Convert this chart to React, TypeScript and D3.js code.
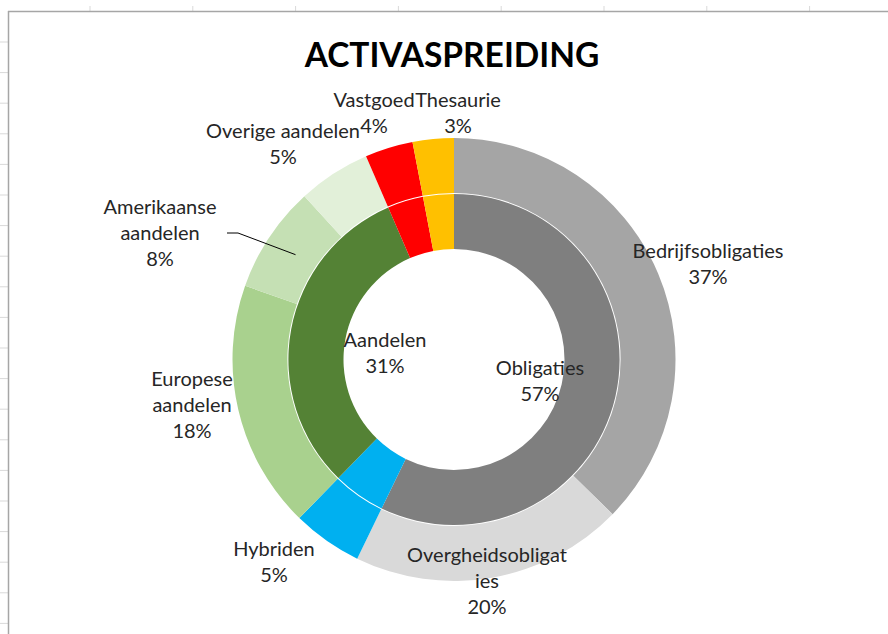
import React from "react";
import * as d3 from "d3";

// ---- data ----
const outerLabels = [
  "Bedrijfsobligaties",
  "Overgheidsobligaties",
  "Hybriden",
  "Europese aandelen",
  "Amerikaanse aandelen",
  "Overige aandelen",
  "Vastgoed",
  "Thesaurie",
];
const outerValues = [37.3, 19.9, 5.1, 18.1, 7.8, 5.3, 3.5, 3.0];
const outerColors = ["#A5A5A5", "#D9D9D9", "#00B0F0", "#A9D18E", "#C5E0B4", "#E2F0D9", "#FF0000", "#FFC000"];

const innerLabels = ["Obligaties", "Hybriden", "Aandelen", "Vastgoed", "Thesaurie"];
const innerValues = [57.2, 5.1, 31.2, 3.5, 3.0];
const innerColors = ["#7F7F7F", "#00B0F0", "#548235", "#FF0000", "#FFC000"];

const title = "ACTIVASPREIDING";

// label text lines (as shown in the chart)
const outerLabelLines = [
  ["Bedrijfsobligaties", "37%"],
  ["Overgheidsobligat", "ies", "20%"],
  ["Hybriden", "5%"],
  ["Europese", "aandelen", "18%"],
  ["Amerikaanse", "aandelen", "8%"],
  ["Overige aandelen", "5%"],
  ["Vastgoed", "4%"],
  ["Thesaurie", "3%"],
];
const innerLabelLines: (string[] | null)[] = [["Obligaties", "57%"], null, ["Aandelen", "31%"], null, null];

// ---- layout (positions of label blocks: first baseline) ----
const outerLabelPos: [number, number][] = [
  [708, 258],
  [487, 562],
  [274, 556],
  [192, 386],
  [160, 214],
  [283, 138],
  [374, 107],
  [458, 107],
];
const innerLabelPos: ([number, number] | null)[] = [[540, 375], null, [385, 347], null, null];

const W = 888;
const H = 634;
const cx = 454;
const cy = 359.5;
const rHole = 110.5;
const rMid = 166;
const rOuter = 221.5;
const lineH = 26;
const font = "Lato, 'Open Sans', sans-serif";

export default function App() {
  const pie = d3.pie<number>().value((d) => d).sort(null);
  const outerArcs = pie(outerValues);
  const innerArcs = pie(innerValues);
  const outerArc = d3.arc<d3.PieArcDatum<number>>().innerRadius(rMid + 0.6).outerRadius(rOuter);
  const innerArc = d3.arc<d3.PieArcDatum<number>>().innerRadius(rHole).outerRadius(rMid - 0.4);

  // leader line for Amerikaanse aandelen
  const am = outerArcs[4];
  const amMid = (am.startAngle + am.endAngle) / 2;
  const lr = 190;
  const lx = cx + lr * Math.sin(amMid);
  const ly = cy - lr * Math.cos(amMid);

  const topTicks = d3.range(90, W, 102.8);
  const leftTicks = d3.range(42, H, 30.6);

  return (
    <svg width={W} height={H} style={{ position: "absolute", left: 0, top: 0, background: "#fff" }}>
      {/* worksheet ticks and chart border */}
      <g stroke="#D9D9D9" strokeWidth={1}>
        {topTicks.map((x, i) => (
          <line key={"t" + i} x1={x} x2={x} y1={6} y2={11} />
        ))}
        {leftTicks.map((y, i) => (
          <line key={"l" + i} x1={0} x2={8} y1={y} y2={y} />
        ))}
      </g>
      <line x1={8} x2={W} y1={11.5} y2={11.5} stroke="#A6A6A6" strokeWidth={1.5} />
      <line x1={8.5} x2={8.5} y1={11} y2={H} stroke="#A6A6A6" strokeWidth={1.5} />

      <text
        x={452}
        y={67}
        textAnchor="middle"
        fontFamily={font}
        fontWeight={700}
        fontSize={33.5}
        fill="#000"
      >
        {title}
      </text>

      <g transform={`translate(${cx},${cy})`}>
        {outerArcs.map((a, i) => (
          <path key={"o" + i} d={outerArc(a) || ""} fill={outerColors[i]}>
            <title>{outerLabels[i]}</title>
          </path>
        ))}
        {innerArcs.map((a, i) => (
          <path key={"i" + i} d={innerArc(a) || ""} fill={innerColors[i]}>
            <title>{innerLabels[i]}</title>
          </path>
        ))}
      </g>

      <polyline
        points={`227,233 238,233 ${lx},${ly}`}
        fill="none"
        stroke="#000"
        strokeWidth={1}
      />

      <g fontFamily={font} fontSize={20} fill="#262626" textAnchor="middle">
        {outerLabelLines.map((lines, i) => (
          <text key={"ol" + i} x={outerLabelPos[i][0]} y={outerLabelPos[i][1]}>
            {lines.map((l, j) => (
              <tspan key={j} x={outerLabelPos[i][0]} dy={j === 0 ? 0 : lineH}>
                {l}
              </tspan>
            ))}
          </text>
        ))}
        {innerLabelLines.map((lines, i) => {
          const p = innerLabelPos[i];
          if (!lines || !p) return null;
          return (
            <text key={"il" + i} x={p[0]} y={p[1]}>
              {lines.map((l, j) => (
                <tspan key={j} x={p[0]} dy={j === 0 ? 0 : lineH}>
                  {l}
                </tspan>
              ))}
            </text>
          );
        })}
      </g>
    </svg>
  );
}
